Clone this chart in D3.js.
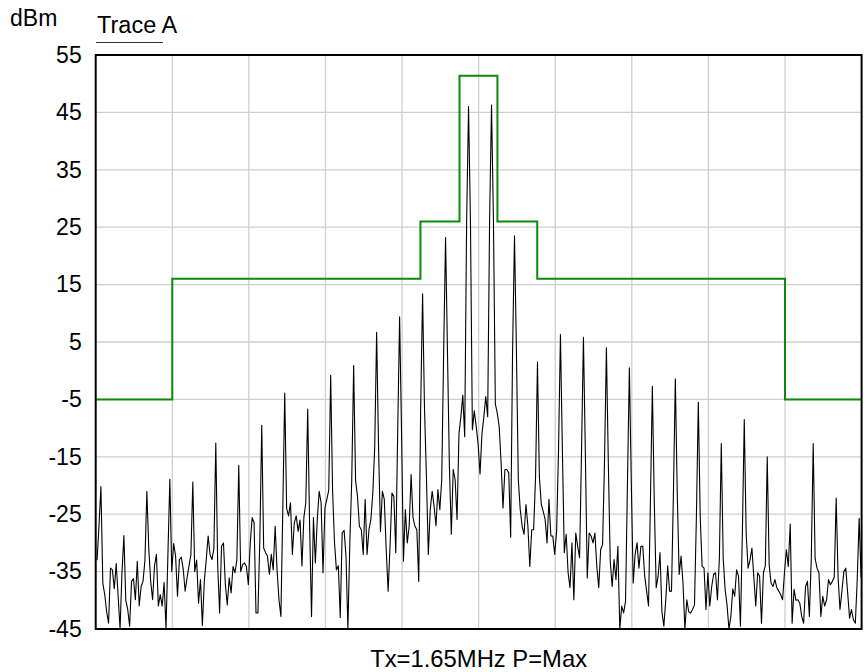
<!DOCTYPE html>
<html>
<head>
<meta charset="utf-8">
<script src="https://cdn.jsdelivr.net/npm/d3@7"></script>
<style>
  html, body { margin: 0; padding: 0; background: #fff; }
  svg { display: block; font-family: "Liberation Sans", Arial, Helvetica, sans-serif; }
</style>
</head>
<body>
<svg id="chart" width="866" height="672"></svg>
<script>
// Level axis (dBm) and horizontal divisions
const yTicks = [55, 45, 35, 25, 15, 5, -5, -15, -25, -35, -45];
const xDivisions = [1, 2, 3, 4, 5, 6, 7, 8, 9];

// Limit mask: segment edges (divisions) and level of each segment (dBm)
const maskEdges = [0, 1, 4.24, 4.75, 5.245, 5.765, 9, 10];
const maskLevels = [-5, 16, 26, 51.4, 26, 16, -5];

// Trace A sampling: first bin position and bin width (divisions)
const traceStart = 0.018;
const traceStep = 0.025;

// Trace A levels (dBm), one per bin
const traceDbm = [
  -33, -27, -20.2, -37, -39, -42, -44, -34.4, -34.7, -38, -33.6, -39.3,
  -45, -35.2, -28.7, -40, -41.6, -44.5, -36.7, -36.2, -39.9, -33.2, -41, -37.6,
  -36.7, -33, -21, -31, -36.7, -39.9, -34, -32, -41, -39, -41, -36.9,
  -45, -32, -18.9, -35, -30.1, -32.3, -39.3, -32.9, -32.5, -34.6, -38.4, -36.1,
  -34, -32, -19.4, -35, -33, -40.5, -36.4, -44.4, -36.7, -33, -28.8, -32,
  -32.9, -31, -12.6, -34, -42.2, -30.6, -30, -37.3, -40.8, -36.1, -38.7, -34.1,
  -35.2, -33, -16.5, -35, -33.8, -33.5, -34.1, -37.3, -30, -25.6, -26.5, -42.2,
  -42.2, -29.5, -9.5, -30.9, -31.7, -32.3, -35.5, -32, -34.7, -27.1, -34.7, -39.9,
  -42.8, -24, -3.9, -24, -25.3, -23, -32, -26.5, -25.3, -28, -26, -34,
  -25.6, -23, -6.7, -27, -42.8, -25.6, -33.5, -25.9, -21, -23, -35.2, -23.9,
  -22.4, -20.8, -0.8, -21, -30, -34.7, -34, -43, -28.3, -27.8, -32.3, -45,
  -30, -19.1, 0.9, -19.1, -21.9, -27.1, -27.7, -32, -22.4, -32, -27.7, -25.9,
  -21.3, -13.3, 6.7, -13.3, -28, -21, -22.4, -31.2, -38.4, -30.6, -21.3, -21.9,
  -31.7, -10.6, 9.4, -10.6, -33.2, -24.2, -30, -27.1, -18.1, -25.6, -27.1, -27.7,
  -36.7, -6.6, 13.4, -6.6, -18.4, -32, -24.2, -21, -23.6, -27, -20.7, -24.2,
  -19, 3.2, 23.2, 3.2, -16.6, -28.5, -17.2, -19, -25.9, -11, -8, -4.3,
  -11.5, 26, 46.0, 26, -10.3, -7, -9.7, -12.8, -18, -11, -8, -4.5,
  -8, 26.3, 46.3, 26.3, -5.8, -7.4, -9.7, -16, -23.9, -17.2, -17.2, -17.8,
  -29, 3.5, 23.5, 3.5, -19, -24.2, -27.1, -28.5, -23.3, -27.1, -34.1, -27.7,
  -27.7, -18.5, 1.5, -18.5, -23.3, -24.5, -25.9, -30, -22.4, -28.8, -28.8, -32,
  -28, -13.7, 6.3, -13.7, -31.7, -28.5, -35.2, -37.8, -30, -39.9, -28.3, -30.6,
  -32.6, -14.2, 5.8, -14.2, -36.1, -28.3, -28.8, -30, -28.3, -34.1, -37.8, -31.2,
  -30.3, -16, 4.0, -16, -33.2, -37.6, -32.9, -36.4, -30.6, -45, -41, -42.2,
  -40.2, -19.5, 0.5, -19.5, -37, -32, -30, -34.4, -30.6, -30.6, -35.8, -38.4,
  -41, -22.7, -2.7, -22.7, -37.8, -35.8, -31.7, -42, -44.5, -40, -34, -38.4,
  -38.4, -21.4, -1.4, -21.4, -35.5, -32.3, -37, -45, -39.9, -42, -42.2, -41.6,
  -40.8, -25.5, -5.5, -25.5, -34.1, -34.4, -41.6, -35.2, -41, -37.6, -35.5, -35.2,
  -39.9, -32.7, -12.7, -32.7, -38.1, -40.8, -45, -42.8, -38, -39.3, -34.7, -35.8,
  -44.5, -28.5, -8.5, -28.5, -34.4, -33, -30.9, -36, -41, -35.2, -35.8, -44,
  -35.2, -34, -15, -33.8, -37, -37.6, -36.4, -37.8, -38.4, -39, -39.9, -35.2,
  -31.2, -34.1, -26.7, -44, -38.1, -40, -39.9, -40.5, -42.8, -44, -37.6, -36.7,
  -42.8, -32.7, -12.7, -32.7, -34.4, -35.2, -42.8, -39.3, -41, -39.9, -36.4, -37.3,
  -36.7, -36, -22.2, -36, -41.6, -38.4, -35, -34.4, -38.7, -43.1, -41.6, -43.4,
  -44, -36.4, -25.7, -36
];

const unitLabel = "dBm";
const traceName = "Trace A";
const footerLabel = "Tx=1.65MHz P=Max";

// ---- layout ----
const plot = { left: 95.7, right: 861.6, top: 55, bottom: 629 };
const svg = d3.select("#chart");

const x = d3.scaleLinear().domain([0, 10]).range([plot.left, plot.right]);
const y = d3.scaleLinear().domain([-45, 55]).range([plot.bottom, plot.top]);

svg.append("defs").append("clipPath").attr("id", "plotClip")
  .append("rect")
  .attr("x", plot.left).attr("y", plot.top)
  .attr("width", plot.right - plot.left).attr("height", plot.bottom - plot.top);

// grid
const grid = svg.append("g").attr("stroke", "#cfcfcf").attr("stroke-width", 1.3);
grid.selectAll("line.h").data(yTicks.slice(1, -1)).join("line")
  .attr("class", "h")
  .attr("x1", plot.left).attr("x2", plot.right)
  .attr("y1", d => y(d)).attr("y2", d => y(d));
grid.selectAll("line.v").data(xDivisions).join("line")
  .attr("class", "v")
  .attr("x1", d => x(d)).attr("x2", d => x(d))
  .attr("y1", plot.top).attr("y2", plot.bottom);

// y axis labels (plain hyphen for negatives)
const yAxis = d3.axisLeft(y).tickValues(yTicks).tickSize(0).tickPadding(14)
  .tickFormat(d => String(d));
svg.append("g")
  .attr("transform", `translate(${plot.left},0)`)
  .call(yAxis)
  .call(g => g.select(".domain").remove())
  .call(g => g.selectAll("text")
    .attr("font-size", 23)
    .attr("font-family", "'Liberation Sans', Arial, sans-serif")
    .attr("fill", "#000"));

// limit mask
const maskPoints = maskLevels.map((v, k) => ({ f: maskEdges[k], v }));
maskPoints.push({ f: maskEdges[maskEdges.length - 1], v: maskLevels[maskLevels.length - 1] });
svg.append("path")
  .datum(maskPoints)
  .attr("fill", "none")
  .attr("stroke", "#0b8a0b")
  .attr("stroke-width", 2)
  .attr("d", d3.line().x(d => x(d.f)).y(d => y(d.v)).curve(d3.curveStepAfter));

// trace
const tracePoints = traceDbm.map((v, i) => ({ f: traceStart + i * traceStep, v }));
svg.append("path")
  .datum(tracePoints)
  .attr("clip-path", "url(#plotClip)")
  .attr("fill", "none")
  .attr("stroke", "#000")
  .attr("stroke-width", 1.1)
  .attr("stroke-linejoin", "round")
  .attr("d", d3.line().x(d => x(d.f)).y(d => y(d.v)));

// frame
svg.append("rect")
  .attr("x", plot.left).attr("y", plot.top)
  .attr("width", plot.right - plot.left).attr("height", plot.bottom - plot.top)
  .attr("fill", "none").attr("stroke", "#000").attr("stroke-width", 2);

// unit, legend and footer
svg.append("text").attr("x", 10).attr("y", 26)
  .attr("font-size", 23).attr("fill", "#000").text(unitLabel);
svg.append("text").attr("x", 97).attr("y", 33)
  .attr("font-size", 23.5).attr("fill", "#000").text(traceName);
svg.append("line")
  .attr("x1", 96).attr("x2", 163).attr("y1", 42.5).attr("y2", 42.5)
  .attr("stroke", "#333").attr("stroke-width", 1);
svg.append("text").attr("x", (plot.left + plot.right) / 2).attr("y", 666.5)
  .attr("text-anchor", "middle")
  .attr("font-size", 23.8).attr("fill", "#000").text(footerLabel);
</script>
</body>
</html>
